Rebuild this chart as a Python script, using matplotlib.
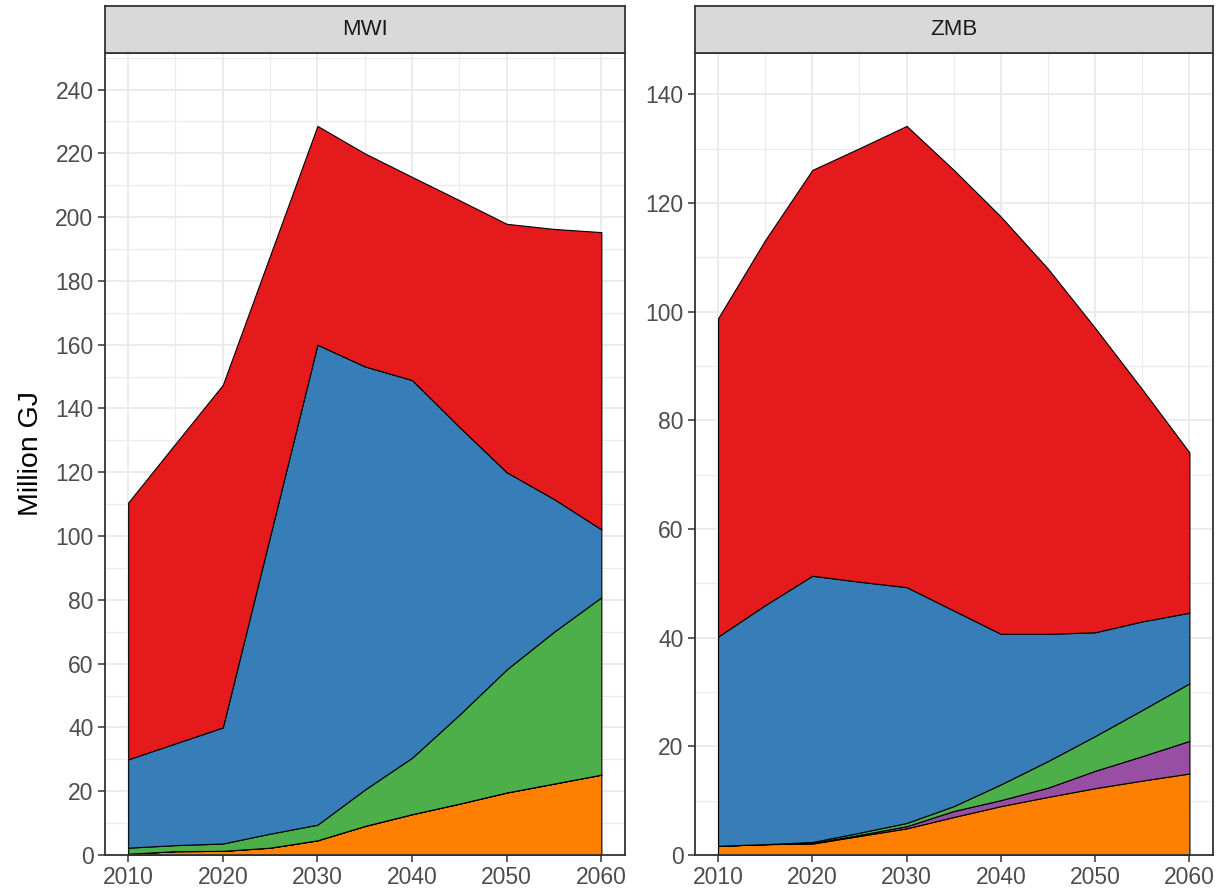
import numpy as np
import matplotlib.pyplot as plt
from matplotlib.ticker import MultipleLocator

plt.rcParams['font.family'] = ['Liberation Sans', 'DejaVu Sans']

years = [2010, 2015, 2020, 2025, 2030, 2035, 2040, 2045, 2050, 2055, 2060]

# layer values (Million GJ), bottom to top
mwi_orange = [0.4, 1.2, 1.3, 2.3, 4.6, 9.1, 12.8, 16.1, 19.6, 22.4, 25.2]
mwi_purple = [0, 0, 0, 0, 0, 0, 0, 0, 0, 0, 0]
mwi_green = [1.9, 1.9, 2.3, 4.4, 4.9, 11.4, 17.7, 27.9, 38.6, 47.6, 55.6]
mwi_blue = [27.7, 31.9, 36.4, 93.3, 150.5, 132.7, 118.4, 90.2, 61.8, 41.6, 21.3]
mwi_red = [80.5, 94.0, 107.4, 88.0, 68.6, 66.8, 63.7, 71.1, 77.9, 84.7, 93.2]

zmb_orange = [1.7, 2.0, 2.1, 3.5, 4.9, 7.0, 9.0, 10.7, 12.3, 13.7, 15.0]
zmb_purple = [0, 0, 0.1, 0.2, 0.4, 1.1, 1.1, 1.7, 3.2, 4.5, 6.0]
zmb_green = [0, 0, 0.2, 0.4, 0.6, 0.9, 2.9, 4.9, 6.4, 8.5, 10.6]
zmb_blue = [38.5, 44.0, 49.0, 46.2, 43.4, 36.0, 27.7, 23.4, 19.1, 16.3, 13.0]
zmb_red = [58.6, 67.2, 74.7, 79.8, 84.9, 81.1, 76.8, 67.2, 56.0, 42.7, 29.5]

colors = ['#FF7F00', '#984EA3', '#4DAF4A', '#377EB8', '#E41A1C']

panels = [
    ('MWI', [mwi_orange, mwi_purple, mwi_green, mwi_blue, mwi_red], 40),
    ('ZMB', [zmb_orange, zmb_purple, zmb_green, zmb_blue, zmb_red], 20),
]

fig = plt.figure(figsize=(12.19, 8.94), dpi=100)

lefts = [104.5 / 1219, 694.5 / 1219]
widths = [520.5 / 1219, 518.5 / 1219]
bottom = 39 / 894
height = 802 / 894
strip_h = 47 / 894

for i, (name, layers, step) in enumerate(panels):
    ax = fig.add_axes([lefts[i], bottom, widths[i], height])
    ax.stackplot(years, *layers, colors=colors, edgecolor='black', linewidth=0.8)

    top = np.sum(layers, axis=0).max()
    ax.set_ylim(0, top * 1.1)
    ax.set_xlim(2007.5, 2062.5)

    ax.xaxis.set_major_locator(MultipleLocator(10))
    ax.xaxis.set_minor_locator(MultipleLocator(5))
    ax.yaxis.set_major_locator(MultipleLocator(20))
    ax.yaxis.set_minor_locator(MultipleLocator(10))
    ax.grid(which='major', color='#EBEBEB', linewidth=1.4)
    ax.grid(which='minor', color='#EBEBEB', linewidth=0.8)
    ax.set_axisbelow(True)

    ax.tick_params(which='major', length=5, width=1.1, color='#333333',
                   labelsize=16.5, labelcolor='#4D4D4D', pad=3)
    ax.tick_params(which='minor', length=0)
    for s in ax.spines.values():
        s.set_color('#333333')
        s.set_linewidth(1.3)
        s.set_zorder(5)

    if i == 0:
        ax.set_ylabel('Million GJ', fontsize=20.5, color='black', labelpad=8)

    # facet strip
    sx = fig.add_axes([lefts[i], bottom + height, widths[i], strip_h])
    sx.set_facecolor('#D9D9D9')
    sx.set_xticks([])
    sx.set_yticks([])
    for s in sx.spines.values():
        s.set_color('#333333')
        s.set_linewidth(1.3)
    sx.text(0.5, 0.5, name, ha='center', va='center', fontsize=16,
            color='#1A1A1A', transform=sx.transAxes)

fig.savefig('out.png', dpi=100)
